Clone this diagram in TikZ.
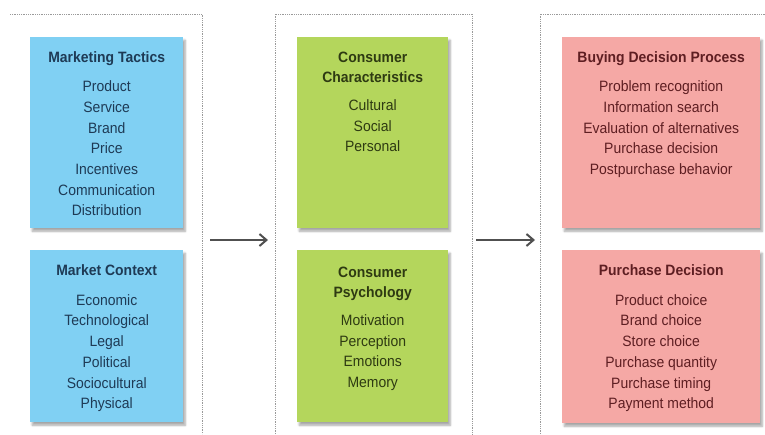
\documentclass[tikz,border=0pt]{standalone}
\usepackage{fontspec}
\setmainfont{Liberation Sans}[FakeStretch=0.93]
\usetikzlibrary{arrows.meta,shadows.blur}
\definecolor{bluefill}{HTML}{80D0F3}
\definecolor{greenfill}{HTML}{B4D65C}
\definecolor{pinkfill}{HTML}{F5A8A5}
\definecolor{bluetext}{HTML}{1E3A55}
\definecolor{greentext}{HTML}{2E3A12}
\definecolor{pinktext}{HTML}{5E1E22}
\definecolor{framegray}{HTML}{9A9A9A}
\definecolor{arrowgray}{HTML}{505050}
\tikzset{
  card/.style={draw=none, minimum width=#1, anchor=north west, inner sep=0pt,
    blur shadow={shadow xshift=2pt, shadow yshift=-3pt, shadow blur steps=6, shadow opacity=35}},
  bluecard/.style={card, fill=bluefill},
  greencard/.style={card, fill=greenfill},
  pinkcard/.style={card, fill=pinkfill},
  cardtext/.style={anchor=north, align=center, inner sep=0pt,
    font=\fontsize{15}{20.7}\selectfont},
  frameline/.style={framegray, densely dotted, line width=0.8pt},
  flow/.style={arrowgray, line width=2.2pt, -{Straight Barb[length=7pt,width=12pt,line width=2pt]}}
}
\begin{document}
\begin{tikzpicture}[x=1pt,y=-1pt]
\useasboundingbox (0,0) rectangle (765,434);
% frames
\coordinate (f1a) at (10,14); \coordinate (f1b) at (202,14); \coordinate (f1c) at (202,434);
\coordinate (f2a) at (275,434); \coordinate (f2b) at (275,14); \coordinate (f2c) at (472,14); \coordinate (f2d) at (472,434);
\coordinate (f3a) at (540,434); \coordinate (f3b) at (540,14); \coordinate (f3c) at (765,14);
\draw[frameline] (f1a) -- (f1b) -- (f1c);
\draw[frameline] (f2a) -- (f2b) -- (f2c) -- (f2d);
\draw[frameline] (f3a) -- (f3b) -- (f3c);

% boxes
\node[bluecard, minimum width=153pt, minimum height=191pt] (b1) at (30,37) {};
\node[bluecard, minimum width=153pt, minimum height=172pt] (b2) at (30,250) {};
\node[greencard, minimum width=151pt, minimum height=191pt] (g1) at (297,37) {};
\node[greencard, minimum width=151pt, minimum height=172pt] (g2) at (297,250) {};
\node[pinkcard, minimum width=198pt, minimum height=191pt] (p1) at (562,37) {};
\node[pinkcard, minimum width=198pt, minimum height=173pt] (p2) at (562,250) {};

% texts
\node[cardtext, text=bluetext] (t1) at ([yshift=-14.5pt]b1.north)
  {\textbf{Marketing Tactics}\\[8.5pt]Product\\Service\\Brand\\Price\\Incentives\\Communication\\Distribution};
\node[cardtext, text=bluetext] (t2) at ([yshift=-14.5pt]b2.north)
  {\textbf{Market Context}\\[9pt]Economic\\Technological\\Legal\\Political\\Sociocultural\\Physical};
\node[cardtext, text=greentext] (t3) at ([yshift=-14.5pt]g1.north)
  {\textbf{Consumer}\\[-0.7pt]\textbf{Characteristics}\\[7.5pt]Cultural\\Social\\Personal};
\node[cardtext, text=greentext] (t4) at ([yshift=-16.5pt]g2.north)
  {\textbf{Consumer}\\[-0.7pt]\textbf{Psychology}\\[7.5pt]Motivation\\Perception\\Emotions\\Memory};
\node[cardtext, text=pinktext] (t5) at ([yshift=-14.5pt]p1.north)
  {\textbf{Buying Decision Process}\\[8.5pt]Problem recognition\\Information search\\Evaluation of alternatives\\Purchase decision\\Postpurchase behavior};
\node[cardtext, text=pinktext] (t6) at ([yshift=-14.5pt]p2.north)
  {\textbf{Purchase Decision}\\[9pt]Product choice\\Brand choice\\Store choice\\Purchase quantity\\Purchase timing\\Payment method};

% arrows
\coordinate (a1s) at (210,240); \coordinate (a1e) at (268,240);
\coordinate (a2s) at (476,240); \coordinate (a2e) at (535,240);
\draw[flow] (a1s) -- (a1e);
\draw[flow] (a2s) -- (a2e);
\end{tikzpicture}
\end{document}
